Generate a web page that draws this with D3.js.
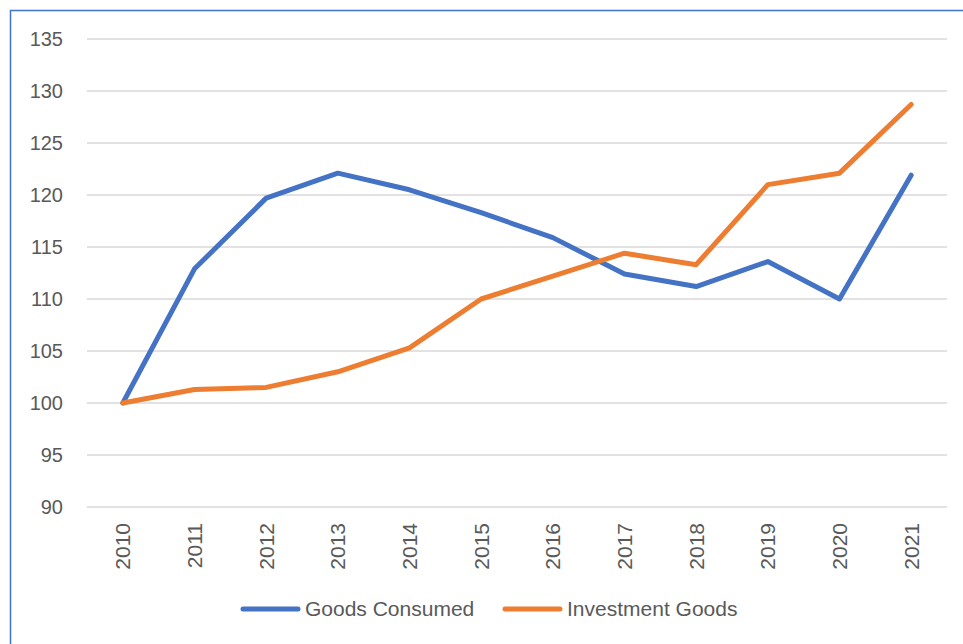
<!DOCTYPE html>
<html>
<head>
<meta charset="utf-8">
<script src="https://cdn.jsdelivr.net/npm/d3@7"></script>
<style>
  body { margin: 0; background: #fff; }
  svg { display: block; }
</style>
</head>
<body>
<script>
// chart values
const years = ["2010", "2011", "2012", "2013", "2014", "2015", "2016", "2017", "2018", "2019", "2020", "2021"];
const goodsConsumed = [100, 112.9, 119.7, 122.1, 120.5, 118.3, 115.9, 112.4, 111.2, 113.6, 110.0, 121.9];
const investmentGoods = [100, 101.3, 101.5, 103.0, 105.3, 110.0, 112.2, 114.4, 113.3, 121.0, 122.1, 128.7];
const yTicks = [90, 95, 100, 105, 110, 115, 120, 125, 130, 135];

const width = 963, height = 644;
const margin = { left: 87, right: 16, top: 39, bottom: 137 };
const font = "Liberation Sans, Arial, sans-serif";

const svg = d3.select("body")
  .append("svg")
  .attr("width", width)
  .attr("height", height);

// chart frame (runs off the right and bottom edge)
svg.append("rect")
  .attr("x", 10.5)
  .attr("y", 10.5)
  .attr("width", width + 20)
  .attr("height", height + 20)
  .attr("fill", "none")
  .attr("stroke", "#4472C4")
  .attr("stroke-width", 1.5);

const x = d3.scaleBand()
  .domain(years)
  .range([margin.left, width - margin.right]);

const y = d3.scaleLinear()
  .domain([90, 135])
  .range([height - margin.bottom, margin.top]);

// gridlines
svg.append("g")
  .selectAll("line")
  .data(yTicks)
  .enter()
  .append("line")
  .attr("x1", margin.left)
  .attr("x2", width - margin.right)
  .attr("y1", d => y(d))
  .attr("y2", d => y(d))
  .attr("stroke", "#d9d9d9")
  .attr("stroke-width", 1.5);

// y axis labels
const yAxis = d3.axisLeft(y).tickValues(yTicks).tickSize(0).tickPadding(24);
svg.append("g")
  .attr("transform", "translate(" + margin.left + ",0)")
  .call(yAxis)
  .call(g => g.select(".domain").remove())
  .selectAll("text")
  .attr("font-family", font)
  .attr("font-size", 20)
  .attr("fill", "#595959");

// x axis labels, rotated
const xAxis = d3.axisBottom(x).tickSize(0).tickPadding(0);
svg.append("g")
  .attr("transform", "translate(0," + (height - margin.bottom) + ")")
  .call(xAxis)
  .call(g => g.select(".domain").remove())
  .selectAll("text")
  .attr("font-family", font)
  .attr("font-size", 21)
  .attr("fill", "#595959")
  .attr("text-anchor", "end")
  .attr("dy", "0.35em")
  .attr("transform", "translate(0,16) rotate(-90)");

const line = d3.line()
  .x((d, i) => x(years[i]) + x.bandwidth() / 2)
  .y(d => y(d));

const series = [
  { name: "Goods Consumed", values: goodsConsumed, color: "#4472C4" },
  { name: "Investment Goods", values: investmentGoods, color: "#ED7D31" }
];

series.forEach(function (s) {
  svg.append("path")
    .datum(s.values)
    .attr("d", line)
    .attr("fill", "none")
    .attr("stroke", s.color)
    .attr("stroke-width", 5)
    .attr("stroke-linejoin", "round")
    .attr("stroke-linecap", "round");
});

// legend
const legendX = [243, 505];
const legend = svg.append("g");
series.forEach(function (s, i) {
  legend.append("line")
    .attr("x1", legendX[i])
    .attr("x2", legendX[i] + 55)
    .attr("y1", 609)
    .attr("y2", 609)
    .attr("stroke", s.color)
    .attr("stroke-width", 5)
    .attr("stroke-linecap", "round");
  legend.append("text")
    .attr("x", legendX[i] + 62)
    .attr("y", 609)
    .attr("dy", "0.35em")
    .attr("font-family", font)
    .attr("font-size", 21)
    .attr("fill", "#595959")
    .text(s.name);
});
</script>
</body>
</html>
